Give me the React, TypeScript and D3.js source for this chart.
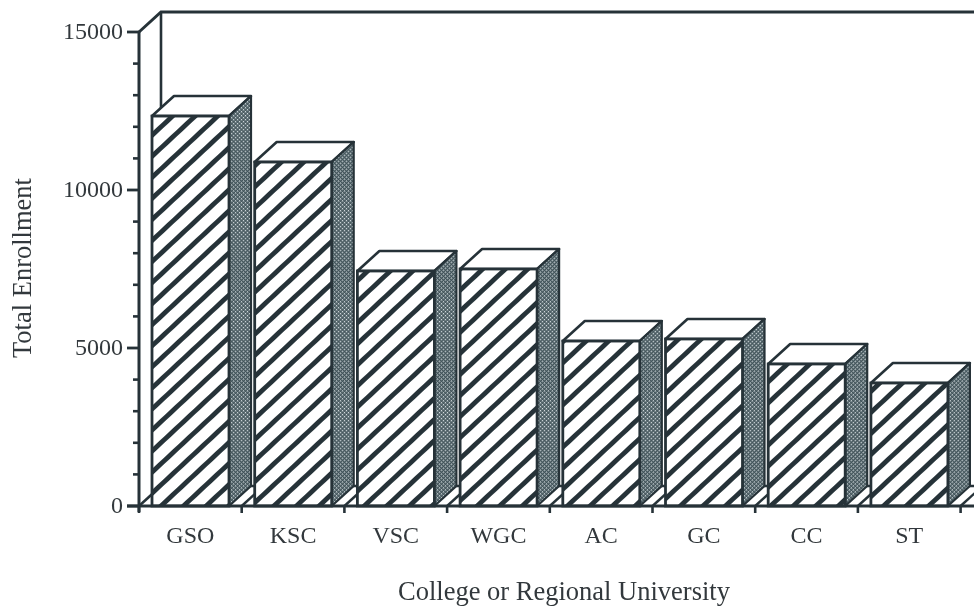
import React from "react";
import * as d3 from "d3";

const categories = ["GSO", "KSC", "VSC", "WGC", "AC", "GC", "CC", "ST"];
const enrollment = [12340, 10885, 7437, 7500, 5220, 5285, 4494, 3892];
const majorTicks = [0, 5000, 10000, 15000];
const minorTicks = [1000, 2000, 3000, 4000, 6000, 7000, 8000, 9000, 11000, 12000, 13000, 14000];
const xLabel = "College or Regional University";
const yLabel = "Total Enrollment";

const W = 974, H = 606;
const INK = "#263339";
const TEXT = "#33393c";
const DX = 22, DY = -20;
const x = d3.scaleBand<string>().domain(categories).range([139, 139 + 102.7 * 8]).paddingInner(0).paddingOuter(0);
const y = d3.scaleLinear().domain([0, 15000]).range([506, 32]);
const barLeftPad = 13;
const barW = 77;

export default function App() {
  const y0 = y(0), yTop = y(15000), x0 = x.range()[0];
  return (
    <svg width={W} height={H} viewBox={`0 0 ${W} ${H}`}
      style={{ position: "absolute", left: 0, top: 0, background: "#fff", fontFamily: "'Liberation Serif', serif" }}>
      <defs>
        <pattern id="hatch" width="15.4" height="15.4" patternUnits="userSpaceOnUse" patternTransform="rotate(-43)">
          <rect width="15.4" height="15.4" fill="#fff" />
          <rect y="0" width="15.4" height="4.8" fill={INK} />
        </pattern>
        <pattern id="dots" width="2.8" height="2.8" patternUnits="userSpaceOnUse" patternTransform="rotate(45)">
          <rect width="2.8" height="2.8" fill="#43555b" />
          <rect width="1.4" height="1.4" fill="#d3dbde" />
        </pattern>
        <filter id="scan" x="0" y="0" width="100%" height="100%">
          <feGaussianBlur stdDeviation="0.55" />
        </filter>
      </defs>

      <g filter="url(#scan)">
        <rect width={W} height={H} fill="#fff" />
        <path d={`M${x0} ${yTop}L${x0 + DX} ${yTop + DY}H${W}`} fill="none" stroke={INK} strokeWidth={3} />
        <line x1={x0 + DX} x2={x0 + DX} y1={yTop + DY} y2={y0 + DY} stroke={INK} strokeWidth={2.6} />
        <line x1={x0} x2={x0} y1={yTop} y2={y0 + 6} stroke={INK} strokeWidth={3} />
        <line x1={x0} x2={x0 + DX} y1={y0} y2={y0 + DY} stroke={INK} strokeWidth={2.6} />
        <line x1={x0 + DX} x2={W} y1={y0 + DY} y2={y0 + DY} stroke={INK} strokeWidth={2.4} />

        {categories.map((c, i) => {
          const bx = x(c)! + barLeftPad;
          const top = y(enrollment[i]);
          const nextX = x(c)! + x.bandwidth();
          return (
            <g key={c}>
              <line x1={nextX} x2={nextX + DX} y1={y0} y2={y0 + DY} stroke={INK} strokeWidth={2.4} />
              <path d={`M${bx} ${top}L${bx + DX} ${top + DY}H${bx + barW + DX}L${bx + barW} ${top}Z`}
                fill="#fff" stroke={INK} strokeWidth={2.6} strokeLinejoin="round" />
              <path d={`M${bx + barW} ${top}L${bx + barW + DX} ${top + DY}V${y0 + DY}L${bx + barW} ${y0}Z`}
                fill="url(#dots)" stroke={INK} strokeWidth={2.2} strokeLinejoin="round" />
              <rect x={bx} y={top} width={barW} height={y0 - top} fill="url(#hatch)" stroke={INK} strokeWidth={2.8} />
            </g>
          );
        })}

        <line x1={x0 - 12} x2={W} y1={y0} y2={y0} stroke={INK} strokeWidth={3.2} />

        {majorTicks.map(t => (
          <g key={t}>
            <line x1={x0 - 12} x2={x0} y1={y(t)} y2={y(t)} stroke={INK} strokeWidth={2.8} />
            <text x={x0 - 16} y={y(t) + 7} textAnchor="end" fontSize={24} fill={TEXT}>{t}</text>
          </g>
        ))}
        {minorTicks.map(t => (
          <line key={t} x1={x0 - 6} x2={x0} y1={y(t)} y2={y(t)} stroke={INK} strokeWidth={2.6} />
        ))}
        {categories.map(c => (
          <g key={c}>
            <line x1={x(c)!} x2={x(c)!} y1={y0} y2={y0 + 7} stroke={INK} strokeWidth={2.6} />
            <text x={x(c)! + x.bandwidth() / 2} y={y0 + 37} textAnchor="middle" fontSize={24} fill={TEXT}>{c}</text>
          </g>
        ))}
        <line x1={x0 + 8 * x.bandwidth()} x2={x0 + 8 * x.bandwidth()} y1={y0} y2={y0 + 7} stroke={INK} strokeWidth={2.6} />

        <text x={564} y={600} textAnchor="middle" fontSize={26.5} fill={TEXT}>{xLabel}</text>
        <text transform="translate(31,268) rotate(-90)" textAnchor="middle" fontSize={26.5} fill={TEXT}>{yLabel}</text>
      </g>
    </svg>
  );
}
